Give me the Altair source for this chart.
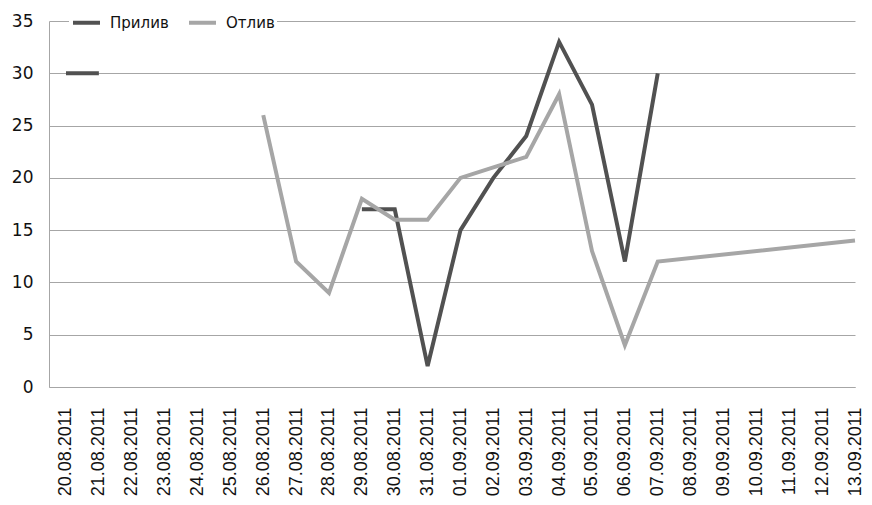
import altair as alt
import pandas as pd

dates = ["20.08.2011", "21.08.2011", "22.08.2011", "23.08.2011", "24.08.2011",
         "25.08.2011", "26.08.2011", "27.08.2011", "28.08.2011", "29.08.2011",
         "30.08.2011", "31.08.2011", "01.09.2011", "02.09.2011", "03.09.2011",
         "04.09.2011", "05.09.2011", "06.09.2011", "07.09.2011", "08.09.2011",
         "09.09.2011", "10.09.2011", "11.09.2011", "12.09.2011", "13.09.2011"]
priliv = [30, 30, None, None, None, None, None, None, None, 17, 17, 2, 15, 20, 24,
          33, 27, 12, 30, None, None, None, None, None, None]
otliv = [None, None, None, None, None, None, 26, 12, 9, 18, 16, 16, 20, 21, 22,
         28, 13, 4, 12, None, None, None, None, None, 14]
series_names = ["Прилив", "Отлив"]
series_colors = ["#515151", "#a6a6a6"]

rows = []
# Прилив: gaps break the line
seg = 0
prev = None
for i, v in enumerate(priliv):
    if v is None:
        prev = None
        continue
    if prev is None:
        seg += 1
    rows.append({"idx": i, "value": v, "series": "Прилив", "seg": f"p{seg}"})
    prev = v
# Отлив: gaps are bridged
for i, v in enumerate(otliv):
    if v is not None:
        rows.append({"idx": i, "value": v, "series": "Отлив", "seg": "o1"})
df = pd.DataFrame(rows)

label_arr = "[" + ",".join(f"'{d}'" for d in dates) + "]"

x = alt.X("idx:Q",
          scale=alt.Scale(domain=[-0.517, 24.0], nice=False, zero=False),
          axis=alt.Axis(values=list(range(len(dates))), labelExpr=f"{label_arr}[datum.value]",
                        labelAngle=-90, grid=False, ticks=False, title=None,
                        labelFont="Liberation Sans", labelFontSize=18, labelColor="#111",
                        labelPadding=20, domainColor="#a6a6a6", labelOverlap=False,
                        labelBound=False, labelFlush=False))
y = alt.Y("value:Q",
          scale=alt.Scale(domain=[0, 35], nice=False),
          axis=alt.Axis(values=[0, 5, 10, 15, 20, 25, 30, 35], grid=True, gridColor="#a6a6a6",
                        ticks=False, title=None, labelFont="DejaVu Sans", labelFontSize=17,
                        labelColor="#111", labelPadding=16, domainColor="#a6a6a6"))
color = alt.Color("series:N",
                  scale=alt.Scale(domain=series_names, range=series_colors),
                  legend=alt.Legend(orient="none", legendX=20, legendY=-16, direction="horizontal",
                                    title=None, symbolType="stroke", symbolStrokeWidth=4,
                                    symbolSize=729, labelFont="DejaVu Sans", labelFontSize=15,
                                    labelColor="#111", labelOffset=8, columnPadding=12,
                                    fillColor="white", padding=2))

base = alt.Chart(df).mark_line(strokeWidth=4, strokeCap="butt", strokeJoin="miter").encode(
    x=x, y=y, color=color, detail="seg:N", order="idx:Q")

layer1 = base.transform_filter(alt.datum.series == "Прилив")
layer2 = base.transform_filter(alt.datum.series == "Отлив")

chart = alt.layer(layer1, layer2).properties(
    width=806, height=366,
    autosize=alt.AutoSizeParams(type="none"),
    padding={"left": 41, "top": 13, "right": 9, "bottom": 110},
).configure(background="white").configure_view(stroke=None)

chart.save("out.html", embed_options={"renderer": "svg", "actions": False})
